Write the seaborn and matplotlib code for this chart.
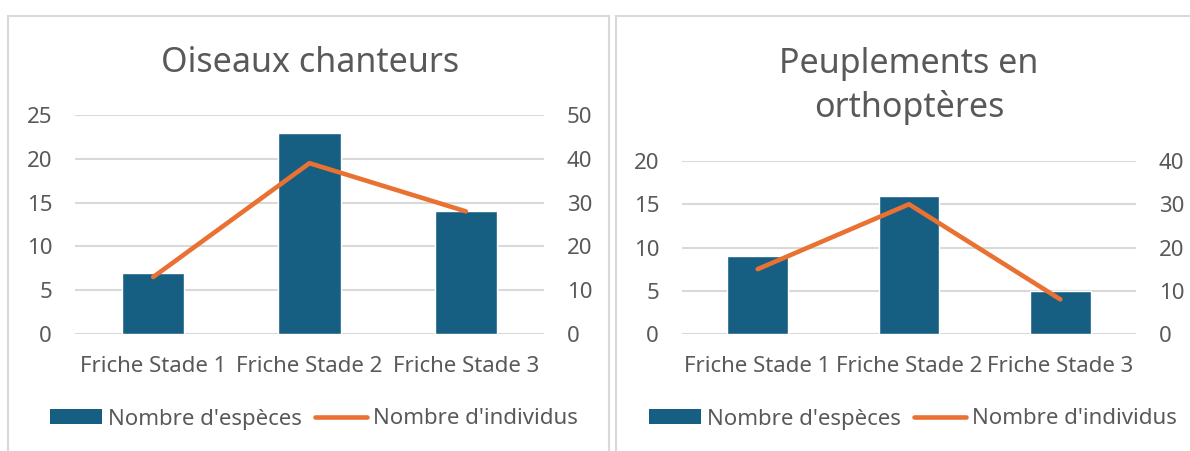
import matplotlib
matplotlib.use("Agg")
import matplotlib.pyplot as plt
import seaborn as sns
import numpy as np
from matplotlib.patches import Rectangle, Patch
from matplotlib.lines import Line2D

categories = ["Friche Stade 1", "Friche Stade 2", "Friche Stade 3"]

oiseaux_especes = [7, 23, 14]
oiseaux_individus = [13, 39, 28]

orthopteres_especes = [9, 16, 5]
orthopteres_individus = [15, 30, 8]

titles = ["Oiseaux chanteurs", "Peuplements en\northoptères"]
legend_labels = ["Nombre d'espèces", "Nombre d'individus"]

BAR_COLOR = "#175f82"
LINE_COLOR = "#e97132"
TEXT_COLOR = "#595959"
GRID_COLOR = "#d9d9d9"
FS = 16

sns.set_theme(style="white")
plt.rcParams["font.family"] = ["Noto Sans", "DejaVu Sans"]

W, H = 1190, 451
fig = plt.figure(figsize=(W / 100, H / 100), dpi=100)


def px_axes(x0, x1, y_top, y_bot):
    return fig.add_axes([x0 / W, 1 - y_bot / H, (x1 - x0) / W, (y_bot - y_top) / H])


def draw_panel(ax, especes, individus, ymax_left, ymax_right):
    sns.barplot(x=categories, y=especes, color=BAR_COLOR, width=0.4,
                saturation=1, ax=ax, zorder=2)
    ax.set_ylim(0, ymax_left)
    ax.set_yticks(np.arange(0, ymax_left + 1, 5))
    ax.set_xlim(-0.5, 2.5)
    ax.yaxis.grid(True, color=GRID_COLOR, linewidth=1.5)
    ax.set_axisbelow(True)
    ax.set_xlabel("")
    ax.set_ylabel("")
    for s in ax.spines.values():
        s.set_visible(False)
    ax.tick_params(axis="both", length=0, labelsize=FS, labelcolor=TEXT_COLOR)
    ax.tick_params(axis="x", pad=16)
    ax.tick_params(axis="y", pad=16.5)

    ax2 = ax.twinx()
    sns.lineplot(x=np.arange(len(categories)), y=individus, color=LINE_COLOR,
                 linewidth=3.3, ax=ax2, solid_capstyle="round")
    ax2.set_ylim(0, ymax_right)
    ax2.set_yticks(np.arange(0, ymax_right + 1, 10))
    ax2.set_ylabel("")
    for s in ax2.spines.values():
        s.set_visible(False)
    ax2.tick_params(axis="y", length=0, labelsize=FS, labelcolor=TEXT_COLOR, pad=16.5)
    ax2.grid(False)
    return ax2


# panel frames
fig.patches.append(Rectangle((8 / W, -0.1), 601 / W, 1.1 - 16 / H,
                             transform=fig.transFigure, fill=False,
                             edgecolor=GRID_COLOR, linewidth=1.5))
fig.patches.append(Rectangle((616 / W, -0.1), 600 / W, 1.1 - 16 / H,
                             transform=fig.transFigure, fill=False,
                             edgecolor=GRID_COLOR, linewidth=1.5))

ax_l = px_axes(75, 544, 115, 334)
draw_panel(ax_l, oiseaux_especes, oiseaux_individus, 25, 50)

ax_r = px_axes(682, 1136, 161, 334)
draw_panel(ax_r, orthopteres_especes, orthopteres_individus, 20, 40)

fig.text(310 / W, 1 - 72 / H, titles[0], ha="center", va="baseline",
         fontsize=24.5, color=TEXT_COLOR)
fig.text(909 / W, 1 - 117 / H, titles[1], ha="center", va="baseline",
         fontsize=24.5, color=TEXT_COLOR, linespacing=1.33, multialignment="center")

handles = [Patch(facecolor=BAR_COLOR, edgecolor="none"),
           Line2D([0], [0], color=LINE_COLOR, linewidth=3.3, solid_capstyle="round")]
for cx in (314, 913):
    fig.legend(handles, legend_labels, loc="center", bbox_to_anchor=(cx / W, 1 - 419 / H),
               ncol=2, frameon=False, fontsize=FS, labelcolor=TEXT_COLOR,
               handlelength=2.35, handleheight=0.63, handletextpad=0.25,
               columnspacing=0.6, borderpad=0, borderaxespad=0)

fig.savefig("out.png", dpi=100)
